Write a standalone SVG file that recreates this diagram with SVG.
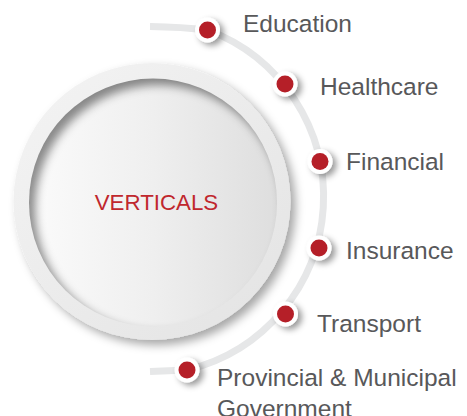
<svg xmlns="http://www.w3.org/2000/svg" width="467" height="416" viewBox="0 0 467 416">
<style>
.lbl{font-family:"Liberation Sans",Arial,sans-serif;font-size:24.5px;fill:#58585a}
.title{font-family:"Liberation Sans",Arial,sans-serif;font-size:22.3px;fill:#c0272d;text-anchor:middle}
.ring{fill:#ffffff;filter:url(#dotShadow)}
.dot{fill:#b51f28}
.track{fill:none;stroke:#e6e7e8;stroke-width:7}
</style>
<defs>
<linearGradient id="outerGrad" x1="0" y1="0" x2="1" y2="1">
<stop offset="0" stop-color="#f4f4f4"/>
<stop offset="1" stop-color="#e3e3e3"/>
</linearGradient>
<linearGradient id="innerGrad" x1="0" y1="0" x2="1" y2="0">
<stop offset="0" stop-color="#fbfbfb"/>
<stop offset="0.5" stop-color="#efefef"/>
<stop offset="1" stop-color="#dedede"/>
</linearGradient>
<filter id="bigShadow" x="-20%" y="-20%" width="140%" height="140%">
<feDropShadow dx="5" dy="5" stdDeviation="5" flood-color="#000" flood-opacity="0.35"/>
</filter>
<filter id="dotShadow" x="-60%" y="-60%" width="220%" height="220%">
<feDropShadow dx="4" dy="3" stdDeviation="3" flood-color="#000" flood-opacity="0.4"/>
</filter>
<filter id="blur6" x="-20%" y="-20%" width="140%" height="140%">
<feGaussianBlur stdDeviation="5"/>
</filter>
<clipPath id="innerClip">
<circle cx="153" cy="202.5" r="124"/>
</clipPath>
</defs>

<g id="connectors">
<path class="track" d="M150,26.5 Q182,27 207.5,30 A178,178 0 0 1 187,370 L150,371.5"/>
</g>

<g id="verticals">
<circle cx="152" cy="201.5" r="138.5" fill="url(#outerGrad)" filter="url(#bigShadow)"/>
<circle cx="153" cy="202.5" r="124" fill="url(#innerGrad)"/>
<g clip-path="url(#innerClip)">
<circle cx="159" cy="209" r="136" fill="none" stroke="#000" stroke-opacity="0.45" stroke-width="24" filter="url(#blur6)"/>
</g>
<text class="title" x="156.5" y="209.5">VERTICALS</text>
</g>

<g id="education">
<circle class="ring" cx="207.5" cy="30" r="12.5"/>
<circle class="dot" cx="207.5" cy="30" r="8.5"/>
<text class="lbl" x="243" y="31.5">Education</text>
</g>

<g id="healthcare">
<circle class="ring" cx="285" cy="84" r="12.5"/>
<circle class="dot" cx="285" cy="84" r="8.5"/>
<text class="lbl" x="320" y="94.5">Healthcare</text>
</g>

<g id="financial">
<circle class="ring" cx="320" cy="161.5" r="12.5"/>
<circle class="dot" cx="320" cy="161.5" r="8.5"/>
<text class="lbl" x="346" y="169.5">Financial</text>
</g>

<g id="insurance">
<circle class="ring" cx="319" cy="248" r="12.5"/>
<circle class="dot" cx="319" cy="248" r="8.5"/>
<text class="lbl" x="346" y="258.5">Insurance</text>
</g>

<g id="transport">
<circle class="ring" cx="285.5" cy="314" r="12.5"/>
<circle class="dot" cx="285.5" cy="314" r="8.5"/>
<text class="lbl" x="317" y="331.5">Transport</text>
</g>

<g id="provincial">
<circle class="ring" cx="187" cy="370" r="12.5"/>
<circle class="dot" cx="187" cy="370" r="8.5"/>
<text class="lbl" x="217" y="386">Provincial &amp; Municipal</text>
<text class="lbl" x="217" y="416.5">Government</text>
</g>
</svg>
